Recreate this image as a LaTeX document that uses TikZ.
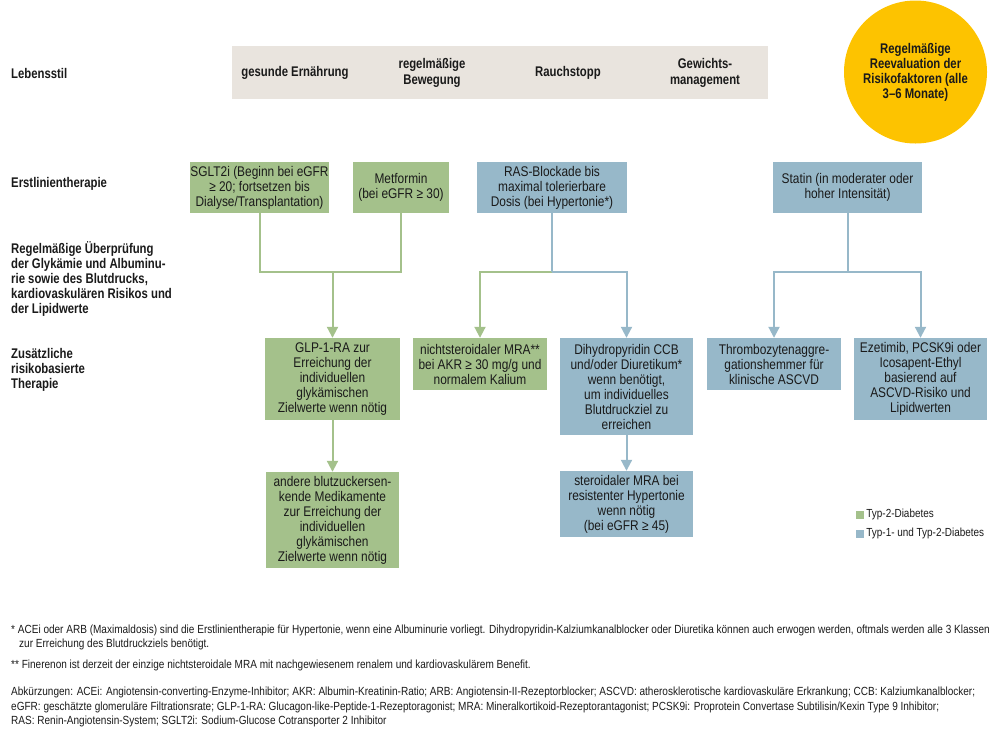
\documentclass[tikz,border=0pt]{standalone}
\usepackage{fontspec}
\setmainfont{Liberation Sans}[FakeStretch=0.85, BoldFeatures={FakeStretch=0.81}]
\usetikzlibrary{arrows.meta,positioning}

\definecolor{gruen}{HTML}{A4C18B}
\definecolor{blau}{HTML}{97B8C9}
\definecolor{band}{HTML}{E9E4DE}
\definecolor{gelb}{HTML}{FDC300}
\definecolor{schrift}{HTML}{1A1A1A}

\begin{document}
\begin{tikzpicture}[x=1pt, y=-1pt, every node/.style={font=\fontsize{14}{15}\selectfont, inner sep=0pt, text=schrift}, >={Triangle[width=11pt,length=11pt]},
  gbox/.style={fill=gruen, align=center},
  bbox/.style={fill=blau, align=center},
  rowlabel/.style={anchor=west, align=left, font=\fontsize{14}{15}\selectfont\bfseries},
  stil/.style={align=center, font=\fontsize{14}{15.5}\selectfont\bfseries},
  gline/.style={draw=gruen, line width=2pt},
  bline/.style={draw=blau, line width=2pt},
  fn/.style={anchor=base west, font=\fontsize{11.8}{12.5}\selectfont},
  legtext/.style={anchor=west, font=\fontsize{11.7}{12.5}\selectfont}]

  \useasboundingbox (0,0) rectangle (1000,729);

  % Zeilenbeschriftungen
  \node (r1) [rowlabel] at (11,73) {Lebensstil};
  \node (r2) [rowlabel] at (11,184) {Erstlinientherapie};
  \node (r3) [rowlabel] at (11,279) {Regelmäßige Überprüfung\\der Glykämie und Albuminu-\\rie sowie des Blutdrucks,\\kardiovaskulären Risikos und\\der Lipidwerte};
  \node (r4) [rowlabel] at (11,370) {Zusätzliche\\risikobasierte\\Therapie};

  % Lebensstil
  \node (lstil) [fill=band, minimum width=536pt, minimum height=53pt] at (500,72.5) {};
  \node (l1) [stil] at (295,73) {gesunde Ernährung};
  \node (l2) [stil] at (432,73) {regelmäßige\\Bewegung};
  \node (l3) [stil] at (568,73) {Rauchstopp};
  \node (l4) [stil] at (705,73) {Gewichts-\\management};

  % Reevaluation
  \node (reeval) [circle, fill=gelb, minimum size=143pt, stil, font=\fontsize{14}{15}\selectfont\bfseries] at (915.5,72) {Regelmäßige\\Reevaluation der\\Risikofaktoren (alle\\3–6 Monate)};

  % Erstlinientherapie
  \node (sglt) [gbox, minimum width=139pt, minimum height=51pt] at (259.5,187.5) {SGLT2i (Beginn bei eGFR\\≥ 20; fortsetzen bis\\Dialyse/Transplantation)};
  \node (met) [gbox, minimum width=96pt, minimum height=51pt] at (401,187.5) {Metformin\\(bei eGFR ≥ 30)};
  \node (ras) [bbox, minimum width=150pt, minimum height=51pt] at (552,187.5) {RAS-Blockade bis\\maximal tolerierbare\\Dosis (bei Hypertonie*)};
  \node (statin) [bbox, minimum width=149pt, minimum height=51pt] at (847.5,187.5) {Statin (in moderater oder\\hoher Intensität)};

  % Zusaetzliche Therapie
  \node (glp) [gbox, minimum width=135pt, minimum height=82pt] at (332.5,379) {GLP-1-RA zur\\Erreichung der\\individuellen\\glykämischen\\Zielwerte wenn nötig};
  \node (nsmra) [gbox, minimum width=134pt, minimum height=52pt] at (480,364) {nichtsteroidaler MRA**\\bei AKR ≥ 30 mg/g und\\normalem Kalium};
  \node (dhp) [bbox, minimum width=133pt, minimum height=97pt] at (626.5,386.5) {Dihydropyridin CCB\\und/oder Diuretikum*\\wenn benötigt,\\um individuelles\\Blutdruckziel zu\\erreichen};
  \node (thromb) [bbox, minimum width=134pt, minimum height=52pt] at (774,364) {Thrombozytenaggre-\\gationshemmer für\\klinische ASCVD};
  \node (ezet) [bbox, minimum width=133pt, minimum height=82pt] at (920.5,379) {Ezetimib, PCSK9i oder\\Icosapent-Ethyl\\basierend auf\\ASCVD-Risiko und\\Lipidwerten};
  \node (andere) [gbox, minimum width=133pt, minimum height=96pt] at (332.5,520) {andere blutzuckersen-\\kende Medikamente\\zur Erreichung der\\individuellen\\glykämischen\\Zielwerte wenn nötig};
  \node (steroid) [bbox, minimum width=133pt, minimum height=66pt] at (626.5,504) {steroidaler MRA bei\\resistenter Hypertonie\\wenn nötig\\(bei eGFR ≥ 45)};

  % Verbindungen
  \coordinate (gm) at (332.5,272);
  \coordinate (rj) at (ras.south |- gm);
  \coordinate (sj) at (statin.south |- gm);
  \draw[gline] (sglt.south) |- (gm) -| (met.south);
  \draw[gline,->] (gm) -- (glp.north);
  \draw[gline,->] (rj) -| (nsmra.north);
  \draw[bline] (ras.south) -- (rj);
  \draw[bline,->] (rj) -| (dhp.north);
  \draw[bline] (statin.south) -- (sj);
  \draw[bline,->] (sj) -| (thromb.north);
  \draw[bline,->] (sj) -| (ezet.north);
  \draw[gline,->] (glp) -- (andere);
  \draw[bline,->] (dhp) -- (steroid);

  % Legende
  \node (lg1) [fill=gruen, minimum size=8pt] at (860,514.5) {};
  \node (lt1) [legtext, right=2pt of lg1] {Typ-2-Diabetes};
  \node (lg2) [fill=blau, minimum size=8pt] at (860,533.5) {};
  \node (lt2) [legtext, right=2pt of lg2] {Typ-1- und Typ-2-Diabetes};

  % Fussnoten
  \node (f1) [fn] at (11,633) {* ACEi oder ARB (Maximaldosis) sind die Erstlinientherapie für Hypertonie, wenn eine Albuminurie vorliegt. Dihydropyridin-Kalziumkanalblocker oder Diuretika können auch erwogen werden, oftmals werden alle 3 Klassen};
  \node (f2) [fn] at (19,647) {zur Erreichung des Blutdruckziels benötigt.};
  \node (f3) [fn] at (11,668) {** Finerenon ist derzeit der einzige nichtsteroidale MRA mit nachgewiesenem renalem und kardiovaskulärem Benefit.};
  \node (f4) [fn] at (11,695) {Abkürzungen: ACEi: Angiotensin-converting-Enzyme-Inhibitor; AKR: Albumin-Kreatinin-Ratio; ARB: Angiotensin-II-Rezeptorblocker; ASCVD: atherosklerotische kardiovaskuläre Erkrankung; CCB: Kalziumkanalblocker;};
  \node (f5) [fn] at (11,710) {eGFR: geschätzte glomeruläre Filtrationsrate; GLP-1-RA: Glucagon-like-Peptide-1-Rezeptoragonist; MRA: Mineralkortikoid-Rezeptorantagonist; PCSK9i: Proprotein Convertase Subtilisin/Kexin Type 9 Inhibitor;};
  \node (f6) [fn] at (11,724) {RAS: Renin-Angiotensin-System; SGLT2i: Sodium-Glucose Cotransporter 2 Inhibitor};

\end{tikzpicture}
\end{document}
